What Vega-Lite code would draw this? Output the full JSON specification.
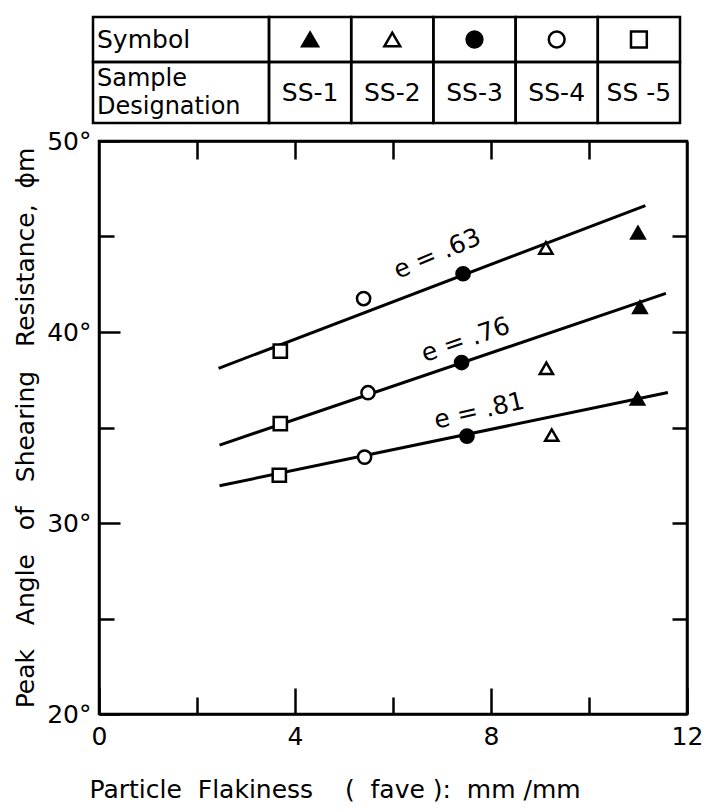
{
  "$schema": "https://vega.github.io/schema/vega-lite/v6.json",
  "padding": {"left": 12, "top": 15, "right": 2, "bottom": 4},
  "bounds": "flush",
  "spacing": 18,
  "config": {
    "font": "DejaVu Sans",
    "view": {"stroke": "black", "strokeWidth": 2.5},
    "axis": {
      "grid": false,
      "domainColor": "black",
      "domainWidth": 2.5,
      "tickColor": "black",
      "tickWidth": 2.5,
      "labelColor": "black",
      "labelFont": "DejaVu Sans",
      "labelFontSize": 25,
      "labelFlush": false,
      "labelOverlap": false,
      "titleColor": "black",
      "titleFont": "DejaVu Sans",
      "titleFontSize": 25,
      "titleFontWeight": "normal"
    },
    "text": {"font": "DejaVu Sans", "color": "black"}
  },
  "datasets": {
    "cells": [
      {"c0": 0, "c1": 2, "r0": 0, "r1": 1, "text": "Symbol"},
      {"c0": 0, "c1": 2, "r0": 1, "r1": 2, "text": "Sample\nDesignation"},
      {"c0": 2, "c1": 3, "r0": 0, "r1": 1, "sample": "SS-1"},
      {"c0": 3, "c1": 4, "r0": 0, "r1": 1, "sample": "SS-2"},
      {"c0": 4, "c1": 5, "r0": 0, "r1": 1, "sample": "SS-3"},
      {"c0": 5, "c1": 6, "r0": 0, "r1": 1, "sample": "SS-4"},
      {"c0": 6, "c1": 7, "r0": 0, "r1": 1, "sample": "SS-5"},
      {"c0": 2, "c1": 3, "r0": 1, "r1": 2, "text": "SS-1"},
      {"c0": 3, "c1": 4, "r0": 1, "r1": 2, "text": "SS-2"},
      {"c0": 4, "c1": 5, "r0": 1, "r1": 2, "text": "SS-3"},
      {"c0": 5, "c1": 6, "r0": 1, "r1": 2, "text": "SS-4"},
      {"c0": 6, "c1": 7, "r0": 1, "r1": 2, "text": "SS -5"}
    ],
    "fits": [
      {"e": ".63", "x": 2.44, "y": 38.1},
      {"e": ".63", "x": 11.15, "y": 46.62},
      {"e": ".76", "x": 2.46, "y": 34.08},
      {"e": ".76", "x": 11.57, "y": 42.02},
      {"e": ".81", "x": 2.46, "y": 31.95},
      {"e": ".81", "x": 11.61, "y": 36.83}
    ],
    "points": [
      {"sample": "SS-5", "e": ".63", "x": 3.7, "y": 39.0},
      {"sample": "SS-4", "e": ".63", "x": 5.4, "y": 41.75},
      {"sample": "SS-3", "e": ".63", "x": 7.43, "y": 43.05},
      {"sample": "SS-2", "e": ".63", "x": 9.12, "y": 44.4},
      {"sample": "SS-1", "e": ".63", "x": 11.0, "y": 45.2},
      {"sample": "SS-5", "e": ".76", "x": 3.7, "y": 35.2},
      {"sample": "SS-4", "e": ".76", "x": 5.49, "y": 36.82},
      {"sample": "SS-3", "e": ".76", "x": 7.4, "y": 38.4},
      {"sample": "SS-2", "e": ".76", "x": 9.13, "y": 38.1},
      {"sample": "SS-1", "e": ".76", "x": 11.04, "y": 41.3},
      {"sample": "SS-5", "e": ".81", "x": 3.68, "y": 32.5},
      {"sample": "SS-4", "e": ".81", "x": 5.42, "y": 33.45},
      {"sample": "SS-3", "e": ".81", "x": 7.51, "y": 34.55},
      {"sample": "SS-2", "e": ".81", "x": 9.24, "y": 34.6},
      {"sample": "SS-1", "e": ".81", "x": 10.99, "y": 36.5}
    ],
    "labels": [
      {"e": ".63", "x": 6.9, "y": 44.1, "label": "e = .63"},
      {"e": ".76", "x": 7.48, "y": 39.6, "label": "e = .76"},
      {"e": ".81", "x": 7.76, "y": 35.88, "label": "e = .81"}
    ]
  },
  "vconcat": [
    {
      "width": 588,
      "height": 106,
      "view": {"stroke": null},
      "data": {"name": "cells"},
      "transform": [
        {"calculate": "(datum.c0 + datum.c1) / 2", "as": "cm"},
        {"calculate": "(datum.r0 + datum.r1) / 2", "as": "rm"}
      ],
      "layer": [
        {
          "mark": {"type": "rect", "filled": false, "color": "black", "strokeWidth": 2.5},
          "encoding": {
            "x": {"field": "c0", "type": "quantitative", "scale": {"domain": [0, 2, 7], "range": [-6, 170, 581]}, "axis": null},
            "x2": {"field": "c1"},
            "y": {"field": "r0", "type": "quantitative", "scale": {"domain": [0, 1, 2], "range": [0, 45, 106]}, "axis": null},
            "y2": {"field": "r1"}
          }
        },
        {
          "transform": [{"filter": "datum.c0 == 0 && datum.r0 == 0"}],
          "mark": {"type": "text", "align": "left", "baseline": "middle", "dx": 4, "fontSize": 25},
          "encoding": {
            "x": {"field": "c0", "type": "quantitative"},
            "y": {"field": "rm", "type": "quantitative"},
            "text": {"field": "text"}
          }
        },
        {
          "transform": [{"filter": "datum.c0 == 0 && datum.r0 == 1"}],
          "mark": {"type": "text", "align": "left", "baseline": "middle", "dx": 4, "dy": -14, "fontSize": 24, "lineBreak": "\n", "lineHeight": 28},
          "encoding": {
            "x": {"field": "c0", "type": "quantitative"},
            "y": {"field": "rm", "type": "quantitative"},
            "text": {"field": "text"}
          }
        },
        {
          "transform": [{"filter": "datum.c0 > 0 && datum.text"}],
          "mark": {"type": "text", "align": "center", "baseline": "middle", "fontSize": 25},
          "encoding": {
            "x": {"field": "cm", "type": "quantitative"},
            "y": {"field": "rm", "type": "quantitative"},
            "text": {"field": "text"}
          }
        },
        {
          "transform": [{"filter": "datum.sample"}],
          "mark": {"type": "point", "size": 250, "strokeWidth": 2.5, "stroke": "black", "opacity": 1},
          "encoding": {
            "x": {"field": "cm", "type": "quantitative"},
            "y": {"field": "rm", "type": "quantitative"},
            "shape": {"field": "sample", "type": "nominal", "scale": {"domain": ["SS-1", "SS-2", "SS-3", "SS-4", "SS-5"], "range": ["triangle-up", "triangle-up", "circle", "circle", "square"]}, "legend": null},
            "fill": {"field": "sample", "type": "nominal", "scale": {"domain": ["SS-1", "SS-2", "SS-3", "SS-4", "SS-5"], "range": ["black", "white", "black", "white", "white"]}, "legend": null}
          }
        }
      ]
    },
    {
      "width": 588,
      "height": 573,
      "layer": [
        {
          "data": {"name": "fits"},
          "mark": {"type": "line", "color": "black", "strokeWidth": 3},
          "encoding": {
            "x": {
              "field": "x", "type": "quantitative",
              "scale": {"domain": [0, 12], "nice": false},
              "axis": {
                "orient": "bottom",
                "values": [0, 2, 4, 6, 8, 10, 12],
                "labelExpr": "datum.value % 4 === 0 ? datum.label : ''",
                "tickSize": {"condition": {"test": "datum.value % 4 === 0", "value": -26}, "value": -17},
                "labelPadding": 36,
                "title": "Particle\u00a0\u00a0Flakiness\u00a0\u00a0\u00a0\u00a0(\u00a0\u00a0fave\u00a0):\u00a0\u00a0mm\u00a0/mm",
                "titleAnchor": "start",
                "titleAlign": "left",
                "titleX": -10,
                "titlePadding": 19
              }
            },
            "y": {
              "field": "y", "type": "quantitative",
              "scale": {"domain": [20, 50], "nice": false},
              "axis": {
                "orient": "left",
                "values": [20, 25, 30, 35, 40, 45, 50],
                "labelExpr": "datum.value % 10 === 0 ? datum.value + '°' : ''",
                "tickSize": {"condition": {"test": "datum.value % 10 === 0", "value": -21}, "value": -15},
                "labelPadding": 29,
                "title": "Peak\u00a0\u00a0\u00a0Angle\u00a0\u00a0\u00a0of\u00a0\u00a0\u00a0Shearing\u00a0\u00a0\u00a0Resistance,\u00a0\u00a0ϕm",
                "titlePadding": 8
              }
            },
            "detail": {"field": "e"}
          }
        },
        {
          "data": {"name": "points"},
          "mark": {"type": "point", "size": 175, "strokeWidth": 2.5, "stroke": "black", "opacity": 1},
          "encoding": {
            "x": {
              "field": "x", "type": "quantitative",
              "axis": {"orient": "top", "values": [2, 4, 6, 8, 10], "labels": false, "tickSize": -18, "title": null}
            },
            "y": {
              "field": "y", "type": "quantitative",
              "axis": {"orient": "right", "values": [25, 30, 35, 40, 45], "labels": false, "tickSize": -15, "title": null}
            },
            "shape": {"field": "sample", "type": "nominal", "scale": {"domain": ["SS-1", "SS-2", "SS-3", "SS-4", "SS-5"], "range": ["triangle-up", "triangle-up", "circle", "circle", "square"]}, "legend": null},
            "fill": {"field": "sample", "type": "nominal", "scale": {"domain": ["SS-1", "SS-2", "SS-3", "SS-4", "SS-5"], "range": ["black", "white", "black", "white", "white"]}, "legend": null}
          }
        },
        {
          "data": {"name": "labels"},
          "transform": [{"filter": "datum.e == '.63'"}],
          "mark": {"type": "text", "fontSize": 25, "angle": -23, "align": "center", "baseline": "middle"},
          "encoding": {
            "x": {"field": "x", "type": "quantitative", "axis": null},
            "y": {"field": "y", "type": "quantitative", "axis": null},
            "text": {"field": "label"}
          }
        },
        {
          "data": {"name": "labels"},
          "transform": [{"filter": "datum.e == '.76'"}],
          "mark": {"type": "text", "fontSize": 25, "angle": -19, "align": "center", "baseline": "middle"},
          "encoding": {
            "x": {"field": "x", "type": "quantitative", "axis": null},
            "y": {"field": "y", "type": "quantitative", "axis": null},
            "text": {"field": "label"}
          }
        },
        {
          "data": {"name": "labels"},
          "transform": [{"filter": "datum.e == '.81'"}],
          "mark": {"type": "text", "fontSize": 25, "angle": -13, "align": "center", "baseline": "middle"},
          "encoding": {
            "x": {"field": "x", "type": "quantitative", "axis": null},
            "y": {"field": "y", "type": "quantitative", "axis": null},
            "text": {"field": "label"}
          }
        }
      ],
      "resolve": {"axis": {"x": "independent", "y": "independent"}}
    }
  ]
}
